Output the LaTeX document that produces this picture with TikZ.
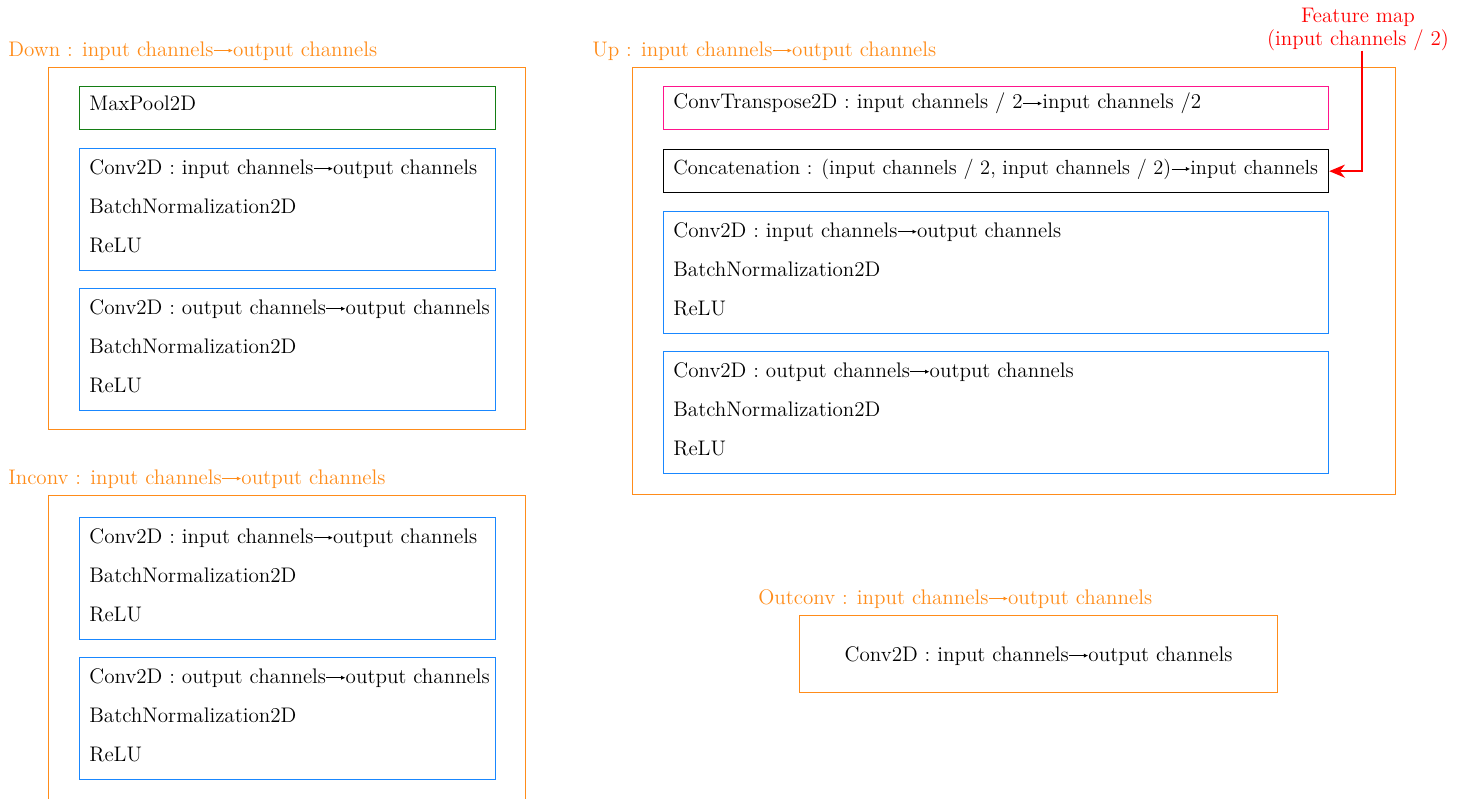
\documentclass[tikz,border=0pt]{standalone}
\usepackage{tikz}
\usetikzlibrary{arrows.meta, positioning, calc}
\definecolor{myorange}{RGB}{255,140,26}
\definecolor{myblue}{RGB}{25,135,255}
\definecolor{mygreen}{RGB}{20,125,20}
\definecolor{mypink}{RGB}{255,20,140}
\definecolor{myred}{RGB}{255,0,0}
\newcommand{\chto}{\tikz[baseline=-0.6ex]\draw[-{Latex[length=2.4pt,width=2.4pt]}, line width=0.4pt] (0,0) -- (0.9em,0);}
\tikzset{
  outerbox/.style={rectangle, draw=myorange, line width=0.75pt, anchor=north west, inner sep=0pt},
  title/.style={anchor=base west, text=myorange, inner sep=0pt},
  layer/.style={rectangle, draw=#1, line width=0.75pt, anchor=north west,
    minimum width=8.32cm, minimum height=0.86cm, inner sep=0pt},
  widelayer/.style={layer=#1, minimum width=13.3cm},
  convblock/.style={layer=myblue, minimum height=2.44cm},
  wideconv/.style={widelayer=myblue, minimum height=2.44cm},
  lines/.style={align=left, inner sep=0pt}
}

\begin{document}
\begin{tikzpicture}[x=0.02cm, y=-0.02cm, font=\fontsize{12}{22.3}\selectfont]
  \useasboundingbox (0,0) rectangle (1464,798);

  % Down
  \node[title] (downtitle) at (8,56) {Down : input channels\chto output channels};
  \node[outerbox, minimum width=9.54cm, minimum height=7.24cm] (down) at (48,67) {};
  \node[layer=mygreen] (dpool) at (79,86) {};
  \node[lines, right=0.2cm of dpool.west, yshift=0.09cm] (dpooltext) {MaxPool2D};
  \node[convblock] (dconva) at (79,148) {};
  \node[lines, right=0.2cm of dconva.west, yshift=0.07cm] (dconvatext) {Conv2D : input channels\chto output channels\\BatchNormalization2D\\ReLU};
  \node[convblock] (dconvb) at (79,288) {};
  \node[lines, right=0.2cm of dconvb.west, yshift=0.07cm] (dconvbtext) {Conv2D : output channels\chto output channels\\BatchNormalization2D\\ReLU};

  % Inconv
  \node[title] (intitle) at (8,484) {Inconv : input channels\chto output channels};
  \node[outerbox, minimum width=9.54cm, minimum height=6.6cm] (inconv) at (48,495) {};
  \node[convblock] (iconva) at (79,517) {};
  \node[lines, right=0.2cm of iconva.west, yshift=0.07cm] (iconvatext) {Conv2D : input channels\chto output channels\\BatchNormalization2D\\ReLU};
  \node[convblock] (iconvb) at (79,657) {};
  \node[lines, right=0.2cm of iconvb.west, yshift=0.07cm] (iconvbtext) {Conv2D : output channels\chto output channels\\BatchNormalization2D\\ReLU};

  % Up
  \node[title] (uptitle) at (592,56) {Up : input channels\chto output channels};
  \node[outerbox, minimum width=15.26cm, minimum height=8.54cm] (up) at (632,67) {};
  \node[widelayer=mypink] (utrans) at (663,86) {};
  \node[lines, right=0.2cm of utrans.west, yshift=0.09cm] (utranstext) {ConvTranspose2D : input channels / 2\chto input channels /2};
  \node[widelayer=black] (uconcat) at (663,149) {};
  \node[lines, right=0.2cm of uconcat.west, yshift=0.04cm, font=\fontsize{11.65}{14}\selectfont] (uconcattext) {Concatenation : (input channels / 2, input channels / 2)\chto input channels};
  \node[wideconv] (uconva) at (663,211) {};
  \node[lines, right=0.2cm of uconva.west, yshift=0.07cm] (uconvatext) {Conv2D : input channels\chto output channels\\BatchNormalization2D\\ReLU};
  \node[wideconv] (uconvb) at (663,351) {};
  \node[lines, right=0.2cm of uconvb.west, yshift=0.07cm] (uconvbtext) {Conv2D : output channels\chto output channels\\BatchNormalization2D\\ReLU};

  % Skip connection input
  \node[text=myred, align=center, inner sep=0pt, font=\fontsize{12}{13.1}\selectfont] (fmap) at (1358,29) {Feature map\\(input channels / 2)};
  \draw[myred, line width=0.75pt, -{Stealth[length=9pt, width=7.5pt]}] (fmap.south) ++(4,0) |- (uconcat.east);

  % Outconv
  \node[title] (outtitle) at (758,604) {Outconv : input channels\chto output channels};
  \node[outerbox, minimum width=9.56cm, minimum height=1.54cm] (outconv) at (799,615) {};
  \node[lines, yshift=-0.03cm] (outconvtext) at (outconv.center) {Conv2D : input channels\chto output channels};
\end{tikzpicture}
\end{document}
